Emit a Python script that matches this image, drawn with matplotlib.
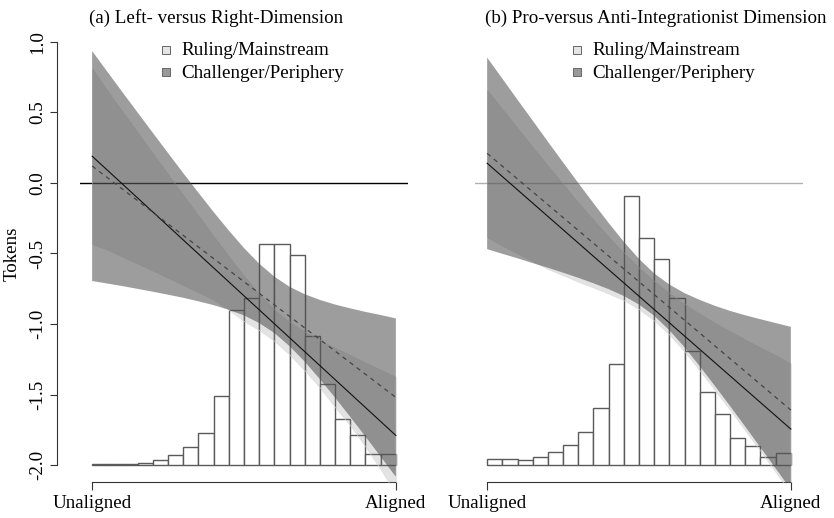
import numpy as np
import matplotlib
matplotlib.use("Agg")
import matplotlib.pyplot as plt
from matplotlib.patches import Rectangle

plt.rcParams["font.family"] = ["Liberation Serif", "DejaVu Serif"]
FS = 13.7

# ---- data -------------------------------------------------------------
titles = ["(a) Left- versus Right-Dimension",
          "(b) Pro-versus Anti-Integrationist Dimension"]
legend_labels = ["Ruling/Mainstream", "Challenger/Periphery"]
x_tick_labels = ["Unaligned", "Aligned"]
y_ticks = [1.0, 0.5, 0.0, -0.5, -1.0, -1.5, -2.0]
y_label = "Tokens"

# evaluation grid for the confidence bands
grid = [0.00, 0.05, 0.10, 0.15, 0.20, 0.25, 0.30, 0.35, 0.40, 0.45, 0.50,
        0.55, 0.60, 0.65, 0.70, 0.75, 0.80, 0.85, 0.90, 0.95, 1.00]

# panel (a): fitted lines (start, end) and 95% bands
a_ruling_line = [0.19, -1.79]
a_challenger_line = [0.12, -1.52]
a_ruling_upper = [0.813, 0.655, 0.507, 0.358, 0.210, 0.062, -0.085, -0.231, -0.377, -0.520, -0.658,
                  -0.787, -0.898, -0.985, -1.054, -1.114, -1.169, -1.221, -1.273, -1.324, -1.374]
a_ruling_lower = [-0.433, -0.473, -0.523, -0.572, -0.622, -0.672, -0.723, -0.775, -0.827, -0.900, -0.980,
                  -1.043, -1.120, -1.217, -1.330, -1.451, -1.590, -1.719, -1.870, -2.030, -2.206]
a_chall_upper = [0.935, 0.789, 0.643, 0.499, 0.355, 0.212, 0.070, -0.069, -0.206, -0.337, -0.461,
                 -0.572, -0.664, -0.736, -0.789, -0.829, -0.862, -0.889, -0.914, -0.936, -0.960]
a_chall_lower = [-0.695, -0.713, -0.731, -0.751, -0.771, -0.792, -0.814, -0.839, -0.866, -0.899, -0.939,
                 -0.993, -1.064, -1.157, -1.267, -1.391, -1.522, -1.659, -1.798, -1.940, -2.083]
# histogram of the alignment scores (bar heights above the -2 baseline)
a_hist = [0.007, 0.008, 0.010, 0.015, 0.033, 0.069, 0.128, 0.225, 0.490, 1.100,
          1.184, 1.565, 1.565, 1.487, 0.915, 0.572, 0.324, 0.210, 0.076, 0.076]

# panel (b)
b_ruling_line = [0.14, -1.745]
b_challenger_line = [0.21, -1.61]
b_ruling_upper = [0.660, 0.524, 0.389, 0.255, 0.123, -0.008, -0.137, -0.262, -0.382, -0.495, -0.601,
                  -0.696, -0.781, -0.857, -0.927, -0.992, -1.052, -1.110, -1.167, -1.221, -1.280]
b_ruling_lower = [-0.385, -0.445, -0.500, -0.555, -0.610, -0.655, -0.700, -0.741, -0.785, -0.831, -0.895,
                  -0.975, -1.075, -1.195, -1.330, -1.469, -1.610, -1.755, -1.900, -2.050, -2.200]
b_chall_upper = [0.889, 0.740, 0.590, 0.442, 0.293, 0.146, 0.000, -0.143, -0.283, -0.417, -0.538,
                 -0.641, -0.720, -0.781, -0.829, -0.871, -0.907, -0.938, -0.966, -0.993, -1.020]
b_chall_lower = [-0.469, -0.502, -0.534, -0.568, -0.601, -0.636, -0.672, -0.711, -0.753, -0.801, -0.862,
                 -0.941, -1.044, -1.165, -1.299, -1.439, -1.582, -1.728, -1.875, -2.024, -2.172]
b_hist = [0.040, 0.040, 0.035, 0.054, 0.092, 0.139, 0.232, 0.402, 0.716, 1.906,
          1.608, 1.463, 1.182, 0.809, 0.515, 0.364, 0.191, 0.135, 0.054, 0.087]

hist_base = -2.0

# ---- figure -----------------------------------------------------------
W, H = 834, 518
fig = plt.figure(figsize=(W / 100, H / 100), dpi=100)


def fx(px):
    return px / W


def fy(py):
    return 1 - py / H


RULING_COL = (0.5, 0.5, 0.5, 0.22)
CHALL_COL = (0.30, 0.30, 0.30, 0.55)

panels = [
    dict(left=80, title=titles[0], tx=89, legx=162, zero="#000000",
         rl=a_ruling_line, cl=a_challenger_line,
         ru=a_ruling_upper, rlo=a_ruling_lower,
         cu=a_chall_upper, clo=a_chall_lower, hist=a_hist, yaxis=True),
    dict(left=475, title=titles[1], tx=485, legx=573, zero="#b0b0b0",
         rl=b_ruling_line, cl=b_challenger_line,
         ru=b_ruling_upper, rlo=b_ruling_lower,
         cu=b_chall_upper, clo=b_chall_lower, hist=b_hist, yaxis=False),
]

for p in panels:
    ax = fig.add_axes([fx(p["left"]), fy(482), 328 / W, 457 / H])
    ax.set_xlim(-0.04, 1.04)
    ax.set_ylim(-2.12, 1.12)
    ax.set_facecolor("none")

    # histogram
    nb = len(p["hist"])
    edges = np.linspace(0, 1, nb + 1)
    ax.bar(edges[:-1], p["hist"], width=1 / nb, bottom=hist_base, align="edge",
           facecolor="white", edgecolor="#5a5a5a", linewidth=1.0, zorder=1)

    # reference line at zero
    ax.axhline(0, color=p["zero"], lw=1.0, zorder=2)

    # confidence bands
    ax.fill_between(grid, p["rlo"], p["ru"], facecolor=RULING_COL,
                    edgecolor=(0.85, 0.85, 0.85, 0.8), linewidth=0.5, zorder=3)
    ax.fill_between(grid, p["clo"], p["cu"], facecolor=CHALL_COL,
                    edgecolor="none", linewidth=0, zorder=4)

    # fitted lines
    ax.plot([0, 1], p["rl"], color="#111111", lw=0.8, zorder=5)
    ax.plot([0, 1], p["cl"], color="#444444", lw=0.9, ls=(0, (3.5, 3.5)), zorder=5)

    # axes
    for s in ["top", "right"]:
        ax.spines[s].set_visible(False)
    ax.spines["bottom"].set_bounds(0, 1)
    ax.spines["bottom"].set_color("#333333")
    ax.set_xticks([0, 1])
    ax.set_xticklabels(x_tick_labels, fontsize=FS)
    ax.tick_params(axis="x", length=5.5, width=0.8, color="#333333", pad=4)
    if p["yaxis"]:
        ax.spines["left"].set_position(("outward", 16.5))
        ax.spines["left"].set_bounds(-2, 1)
        ax.spines["left"].set_color("#333333")
        ax.set_yticks(y_ticks)
        ax.set_yticklabels([f"{v:.1f}" for v in y_ticks],
                           fontsize=FS, rotation=90, va="center")
        ax.tick_params(axis="y", length=5.0, width=0.8, color="#333333", pad=3)
    else:
        ax.spines["left"].set_visible(False)
        ax.set_yticks([])

    # title
    fig.text(fx(p["tx"]), fy(22.7), p["title"], fontsize=FS, ha="left",
             va="baseline")

    # legend
    for i, (lab, col) in enumerate(zip(legend_labels, ["#e4e4e4", "#999999"])):
        yy = 45.5 + i * 22.5
        fig.add_artist(Rectangle((fx(p["legx"]), fy(yy + 8)), 8 / W, 8 / H,
                                 transform=fig.transFigure, facecolor=col,
                                 edgecolor="#666666", linewidth=0.7))
        fig.text(fx(p["legx"] + 19.5), fy(55 + i * 22.5), lab, fontsize=FS,
                 ha="left", va="baseline")

fig.text(fx(12), fy(253.5), y_label, fontsize=FS, rotation=90,
         ha="center", va="center")

fig.savefig("out.png", dpi=100)
